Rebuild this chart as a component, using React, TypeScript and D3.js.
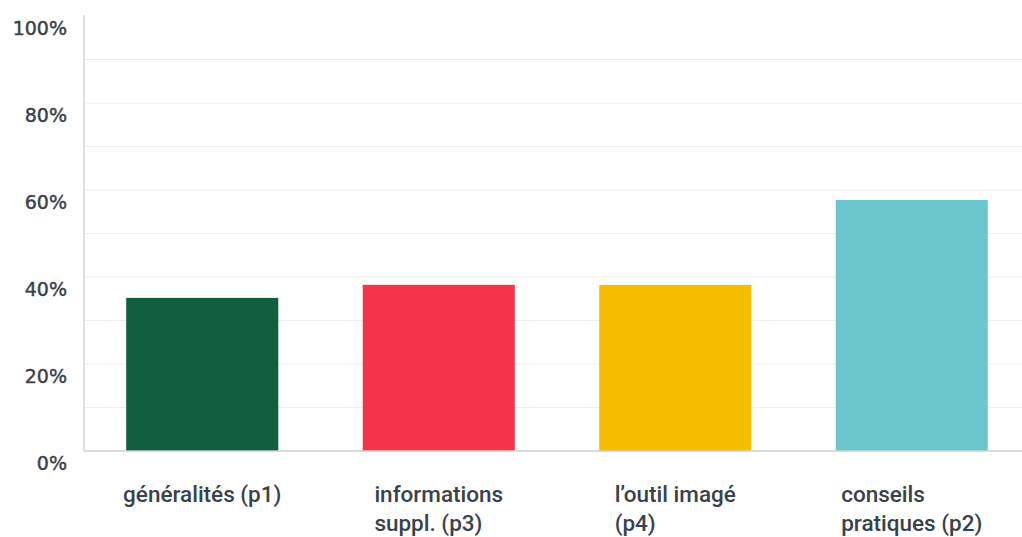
import { useLayoutEffect, useRef } from "react"
import * as d3 from "d3"

const categories = ["généralités (p1)", "informations suppl. (p3)", "l'outil imagé (p4)", "conseils pratiques (p2)"]
const labelLines = [["généralités (p1)"], ["informations", "suppl. (p3)"], ["l’outil imagé", "(p4)"], ["conseils", "pratiques (p2)"]]
const values = [35.2, 38.2, 38.2, 57.7]
const colors = ["#115e3e", "#f5334a", "#f7be00", "#6bc7cc"]
const yTicks = [0, 20, 40, 60, 80, 100]
const gridTicks = [10, 20, 30, 40, 50, 60, 70, 80, 90]

const W = 1022
const H = 537
const LEFT = 84
const BASE = 451
const TOP = 16
const FONT = "Roboto, 'Noto Sans', sans-serif"
const TEXT = "#39424b"

export default function App() {
  const labelsRef = useRef<SVGGElement>(null)

  const x = d3.scaleBand<string>().domain(categories).range([LEFT, 1030]).paddingInner(0.357).paddingOuter(0.1785)
  const y = d3.scaleLinear().domain([0, 100]).range([BASE, TOP])

  // centre each wrapped label block under its bar, text left-aligned inside
  useLayoutEffect(() => {
    const g = labelsRef.current
    if (!g) return
    d3.select(g).selectAll<SVGTextElement, unknown>("text.cat").each(function () {
      const el = this
      const spans = Array.from(el.querySelectorAll("tspan")) as SVGTSpanElement[]
      const w = d3.max(spans, (s) => s.getComputedTextLength()) ?? 0
      const cx = Number(el.getAttribute("data-cx"))
      spans.forEach((s) => s.setAttribute("x", String(cx - w / 2)))
    })
  }, [])

  return (
    <svg width={W} height={H} style={{ position: "absolute", left: 0, top: 0, background: "#fff" }}>
      {gridTicks.map((t) => (
        <line key={t} x1={LEFT} x2={W} y1={y(t)} y2={y(t)} stroke="#ededed" strokeWidth={1.2} />
      ))}
      <line x1={LEFT} x2={LEFT} y1={TOP - 1} y2={BASE} stroke="#d6d6d6" strokeWidth={1.5} />
      {categories.map((c, i) => (
        <rect key={c} x={x(c)} y={y(values[i])} width={x.bandwidth()} height={BASE - y(values[i])} fill={colors[i]} />
      ))}
      <line x1={LEFT} x2={W} y1={BASE} y2={BASE} stroke="#cfcfcf" strokeWidth={1.5} />
      {yTicks.map((t) => (
        <text key={t} x={67} y={y(t) + 19} textAnchor="end"
          fontFamily="'DejaVu Sans', sans-serif" fontSize={19} fill={TEXT}
          stroke={TEXT} strokeWidth={0.45}>{t}%</text>
      ))}
      <g ref={labelsRef}>
        {categories.map((c, i) => (
          <text key={c} className="cat" data-cx={(x(c) ?? 0) + x.bandwidth() / 2}
            fontFamily={FONT} fontSize={22.5} fontWeight={500} fill={TEXT}>
            {labelLines[i].map((l, j) => (
              <tspan key={j} x={x(c)} y={502 + j * 28.5}>{l}</tspan>
            ))}
          </text>
        ))}
      </g>
    </svg>
  )
}
